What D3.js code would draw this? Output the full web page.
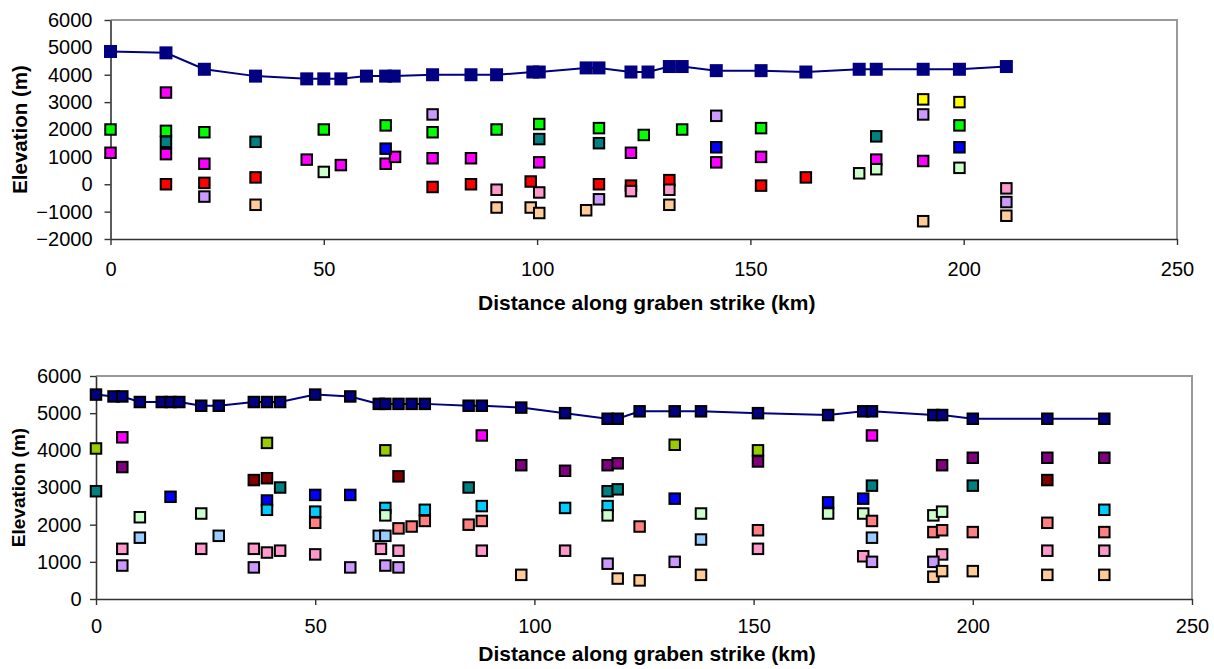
<!DOCTYPE html>
<meta charset="utf-8">
<script src="https://cdn.jsdelivr.net/npm/d3@7"></script>
<style>
  body { margin: 0; background: #fff; }
  svg { font-family: "Liberation Sans", Arial, sans-serif; }
</style>
<body>
<div id="chart"></div>
<script>

// ----- shared labels / ticks
var xTicks = [0, 50, 100, 150, 200, 250]
var topYTicks = [-2000, -1000, 0, 1000, 2000, 3000, 4000, 5000, 6000]
var botYTicks = [0, 1000, 2000, 3000, 4000, 5000, 6000]
var xTitle = "Distance along graben strike (km)"
var yTitle = "Elevation (m)"

// ----- top panel, points are [distance km, elevation m]
var topCrest = [[0,4850],[13,4800],[22,4200],[34,3950],[46,3850],[50,3850],[54,3850],[60,3950],
  [64.5,3950],[66.5,3950],[75.5,4000],[84.5,4000],[90.5,4000],[99,4100],[100.5,4100],[111.5,4250],
  [114.5,4250],[122,4100],[126,4100],[131,4300],[134,4300],[142,4150],[152.5,4150],[163,4100],
  [175.5,4200],[179.5,4200],[190.5,4200],[199,4200],[210,4300]]
var topGreen = [[0,2000],[13,1950],[22,1900],[50,2000],[64.5,2150],[75.5,1900],[90.5,2000],
  [100.5,2200],[114.5,2050],[125,1800],[134,2000],[152.5,2050],[199,2150]]
var topTeal = [[13,1550],[34,1550],[100.5,1650],[114.5,1500],[179.5,1750]]
var topMagenta = [[0,1150],[13,3350],[13,1100],[22,750],[46,900],[54,700],[64.5,750],[66.7,1000],
  [75.5,950],[84.5,950],[100.5,800],[122,1150],[142,800],[152.5,1000],[179.5,900],[190.5,850]]
var topRed = [[13,0],[22,50],[34,250],[75.5,-100],[84.5,0],[98.5,100],[114.5,0],[122,-50],
  [131,150],[152.5,-50],[163,250]]
var topLavender = [[22,-450],[75.5,2550],[114.5,-550],[142,2500],[190.5,2550],[210,-650]]
var topPeach = [[34,-750],[90.5,-850],[98.5,-850],[100.5,-1050],[111.5,-950],[131,-750],
  [190.5,-1350],[210,-1150]]
var topLightGreen = [[50,450],[175.5,400],[179.5,550],[199,600]]
var topBlue = [[64.5,1300],[142,1350],[199,1350]]
var topPink = [[90.5,-200],[100.5,-300],[122,-250],[131,-200],[210,-150]]
var topYellow = [[190.5,3100],[199,3000]]

var topSeries = [topGreen, topTeal, topMagenta, topRed, topLavender, topPeach,
  topLightGreen, topBlue, topPink, topYellow]
var topColors = ["#00ff00", "#008080", "#ff00ff", "#ff0000", "#cc99ff", "#ffcc99",
  "#ccffcc", "#0000ff", "#ff99cc", "#ffff00"]

// ----- bottom panel
var botCrest = [[0,5500],[4,5450],[6,5450],[10,5300],[15,5300],[17,5300],[19,5300],[24,5200],
  [28,5200],[36,5300],[39,5300],[42,5300],[50,5500],[58,5450],[64.5,5250],[66,5250],[69,5250],
  [72,5250],[75,5250],[85,5200],[88,5200],[97,5150],[107,5000],[116.7,4850],[119,4850],
  [124,5050],[132,5050],[138,5050],[151,5000],[167,4950],[175,5050],[177,5050],[191,4950],
  [193,4950],[200,4850],[217,4850],[230,4850]]
var botLime = [[0,4050],[39,4200],[66,4000],[132,4150],[151,4000]]
var botMagenta = [[6,4350],[88,4400],[177,4400]]
var botPurple = [[6,3550],[97,3600],[107,3450],[116.7,3600],[119,3650],[151,3700],[193,3600],
  [200,3800],[217,3800],[230,3800]]
var botTeal = [[0,2900],[42,3000],[85,3000],[116.7,2900],[119,2950],[177,3050],[200,3050]]
var botDarkRed = [[36,3200],[39,3250],[69,3300],[217,3200]]
var botBlue = [[17,2750],[39,2650],[50,2800],[58,2800],[132,2700],[167,2600],[175,2700]]
var botCyan = [[39,2400],[50,2350],[66,2450],[75,2400],[88,2500],[107,2450],[116.7,2500],[230,2400]]
var botLightGreen = [[10,2200],[24,2300],[66,2250],[116.7,2250],[138,2300],[167,2300],[175,2300],
  [191,2250],[193,2350]]
var botLightBlue = [[10,1650],[28,1700],[64.5,1700],[66,1700],[138,1600],[177,1650]]
var botSalmon = [[50,2050],[69,1900],[72,1950],[75,2100],[85,2000],[88,2100],[124,1950],[151,1850],
  [177,2100],[191,1800],[193,1850],[200,1800],[217,2050],[230,1800]]
var botPink = [[6,1350],[24,1350],[36,1350],[39,1250],[42,1300],[50,1200],[65,1350],[69,1300],
  [88,1300],[107,1300],[151,1350],[175,1150],[193,1200],[217,1300],[230,1300]]
var botLavender = [[6,900],[36,850],[58,850],[66,900],[69,850],[116.7,950],[132,1000],[177,1000],[191,1000]]
var botPeach = [[97,650],[119,550],[124,500],[138,650],[191,600],[193,750],[200,750],[217,650],[230,650]]

var botSeries = [botLime, botMagenta, botPurple, botTeal, botDarkRed, botBlue, botCyan,
  botLightGreen, botLightBlue, botSalmon, botPink, botLavender, botPeach]
var botColors = ["#99cc00", "#ff00ff", "#800080", "#008080", "#800000", "#0000ff", "#00ccff",
  "#ccffcc", "#99ccff", "#ff8080", "#ff99cc", "#cc99ff", "#ffcc99"]


var svg = d3.select("#chart")
            .append("svg")
            .attr("width", 1214)
            .attr("height", 669)

function drawPanel(p) {
  var x = d3.scaleLinear().domain([0, 250]).range([p.left, p.right])
  var y = d3.scaleLinear().domain([p.yTicks[0], p.yTicks[p.yTicks.length - 1]]).range([p.bottom, p.top])

  // gray frame (top + right)
  svg.append("path")
     .attr("d", "M" + p.left + "," + p.top + "H" + p.right + "V" + p.bottom)
     .attr("fill", "none")
     .attr("stroke", "#999")
     .attr("stroke-width", 2)

  var gx = svg.append("g")
     .attr("transform", "translate(0," + p.bottom + ")")
     .call(d3.axisBottom(x).tickValues(xTicks).tickFormat(d3.format("d"))
             .tickSize(6).tickSizeOuter(0).tickPadding(p.xPad))
  var gy = svg.append("g")
     .attr("transform", "translate(" + p.left + ",0)")
     .call(d3.axisLeft(y).tickValues(p.yTicks).tickFormat(d3.format("d"))
             .tickSize(6).tickSizeOuter(0).tickPadding(p.yPad))

  ;[gx, gy].forEach(function(g) {
    g.select(".domain").attr("stroke", "#333").attr("stroke-width", 1.6)
    g.selectAll(".tick line").attr("stroke", "#333").attr("stroke-width", 1.4)
    g.selectAll(".tick text")
     .attr("fill", "#000")
     .style("font-family", "Liberation Sans, Arial, sans-serif")
     .style("font-size", "20px")
  })

  // titles
  svg.append("text")
     .attr("x", (p.left + p.right) / 2 + 3)
     .attr("y", p.xTitleY)
     .attr("text-anchor", "middle")
     .style("font-size", "21px")
     .style("font-weight", "bold")
     .text(xTitle)
  svg.append("text")
     .attr("transform", "translate(" + p.yTitleX + "," + (p.top + p.bottom) / 2 + ") rotate(-90)")
     .attr("dy", "0.36em")
     .attr("text-anchor", "middle")
     .style("font-size", p.yTitleSize + "px")
     .style("font-weight", "bold")
     .text(yTitle)

  // scatter series
  var s = 10.5
  p.series.forEach(function(pts, i) {
    svg.append("g").selectAll("rect")
       .data(pts)
       .enter()
       .append("rect")
       .attr("x", function(d) { return x(d[0]) - s / 2 })
       .attr("y", function(d) { return y(d[1]) - s / 2 })
       .attr("width", s)
       .attr("height", s)
       .attr("fill", p.colors[i])
       .attr("stroke", "#000")
       .attr("stroke-width", 2)
  })

  // crest line
  svg.append("path")
     .datum(p.crest)
     .attr("d", d3.line().x(function(d) { return x(d[0]) }).y(function(d) { return y(d[1]) }))
     .attr("fill", "none")
     .attr("stroke", "#000080")
     .attr("stroke-width", 2)
  svg.append("g").selectAll("rect")
     .data(p.crest)
     .enter()
     .append("rect")
     .attr("x", function(d) { return x(d[0]) - p.crestSize / 2 })
     .attr("y", function(d) { return y(d[1]) - p.crestSize / 2 })
     .attr("width", p.crestSize)
     .attr("height", p.crestSize)
     .attr("fill", "#000080")
     .attr("stroke", p.crestStroke)
     .attr("stroke-width", p.crestStroke == "none" ? 0 : 2)
}

drawPanel({
  left: 110.5, right: 1177, top: 20, bottom: 239,
  yTicks: topYTicks, xPad: 17, yPad: 12,
  xTitleY: 310, yTitleX: 20, yTitleSize: 20.5,
  series: topSeries, colors: topColors,
  crest: topCrest, crestSize: 13, crestStroke: "none"
})

drawPanel({
  left: 96, right: 1192, top: 376, bottom: 599,
  yTicks: botYTicks, xPad: 14, yPad: 8.5,
  xTitleY: 661, yTitleX: 18.5, yTitleSize: 19,
  series: botSeries, colors: botColors,
  crest: botCrest, crestSize: 10.5, crestStroke: "#000"
})

</script>
</body>
